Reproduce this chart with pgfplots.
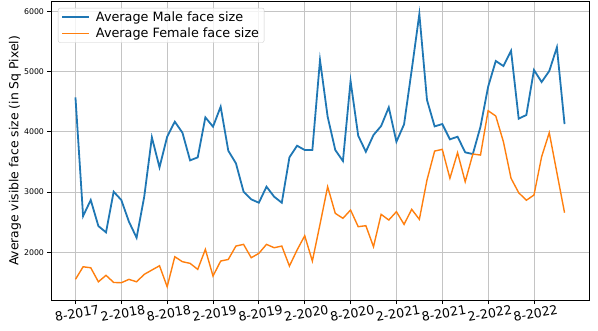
\documentclass[border=0pt]{standalone}
\usepackage{fontspec}
\setmainfont{DejaVu Sans}
\usepackage{pgfplots}
\pgfplotsset{compat=1.18}
\usetikzlibrary{calc}

\definecolor{mplblue}{HTML}{1F77B4}
\definecolor{mplorange}{HTML}{FF7F0E}
\definecolor{gridgray}{HTML}{C4C4C4}

\pgfplotstableread{
m male female
0 4572 1551
1 2602 1760
2 2868 1744
3 2436 1511
4 2331 1618
5 3006 1500
6 2868 1495
7 2508 1551
8 2242 1511
9 2923 1634
10 3908 1706
11 3410 1777
12 3919 1429
13 4168 1927
14 3985 1844
15 3526 1817
16 3576 1717
17 4240 2049
18 4085 1606
19 4417 1855
20 3686 1882
21 3477 2104
22 3006 2132
23 2879 1910
24 2823 1983
25 3089 2132
26 2923 2076
27 2823 2104
28 3576 1772
29 3769 2038
30 3698 2275
31 3698 1855
32 5192 2464
33 4251 3089
34 3698 2647
35 3515 2564
36 4843 2702
37 3935 2425
38 3669 2442
39 3947 2093
40 4096 2630
41 4406 2536
42 3835 2674
43 4124 2464
44 5026 2713
45 5955 2547
46 4528 3200
47 4090 3680
48 4129 3709
49 3875 3228
50 3919 3653
51 3659 3171
52 3631 3631
53 4085 3614
54 4748 4350
55 5175 4262
56 5092 3835
57 5346 3228
58 4218 2989
59 4279 2864
60 5026 2951
61 4826 3586
62 5009 3985
63 5402 3321
64 4129 2657
}\facedata

\begin{document}
\begin{tikzpicture}
\begin{axis}[
    name=ax,
    scale only axis,
    width=538pt, height=299.7pt,
    xmin=-3.2, xmax=67.2,
    ymin=1197, ymax=6171,
    xtick={0,6,...,60},
    xticklabels={8-2017,2-2018,8-2018,2-2019,8-2019,2-2020,8-2020,2-2021,8-2021,2-2022,8-2022},
    ytick={2000,3000,4000,5000,6000},
    /pgf/number format/assume math mode=true,
    /pgf/number format/1000 sep={},
    grid=major,
    major grid style={gridgray, line width=0.8pt},
    axis line style={black, line width=0.8pt},
    tick align=outside,
    major tick length=3.5pt,
    every tick/.style={black, line width=0.8pt},
    xtick pos=bottom, ytick pos=left,
    x tick label style={font=\fontsize{12.6}{15}\selectfont, rotate=10, anchor=north, yshift=-1pt},
    y tick label style={font=\fontsize{7.8}{9}\selectfont},
    ylabel={Average visible face size (in Sq Pixel)},
    ylabel style={font=\fontsize{12.4}{14}\selectfont, at={(axis description cs:-0.067,0.5)}, anchor=center},
    legend style={
        at={(0.013,0.977)}, anchor=north west,
        draw=black!20, rounded corners=2pt,
        fill=white, fill opacity=0.8, text opacity=1,
        font=\fontsize{12.8}{15}\selectfont,
        inner xsep=3pt, inner ysep=1.5pt,
        row sep=1pt, column sep=4pt,
    },
    legend cell align=left,
    legend image code/.code={\draw[#1] (0pt,0pt) -- (27pt,0pt);},
]
\addplot[mplblue, line width=1.8pt] table[x=m, y=male] {\facedata};
\addlegendentry{Average Male face size}
\addplot[mplorange, line width=1.4pt] table[x=m, y=female] {\facedata};
\addlegendentry{Average Female face size}
\end{axis}
\pgfresetboundingbox
\path[use as bounding box] ($(ax.south west)+(-51pt,-29.3pt)$) rectangle ($(ax.north east)+(9pt,1pt)$);
\end{tikzpicture}
\end{document}
